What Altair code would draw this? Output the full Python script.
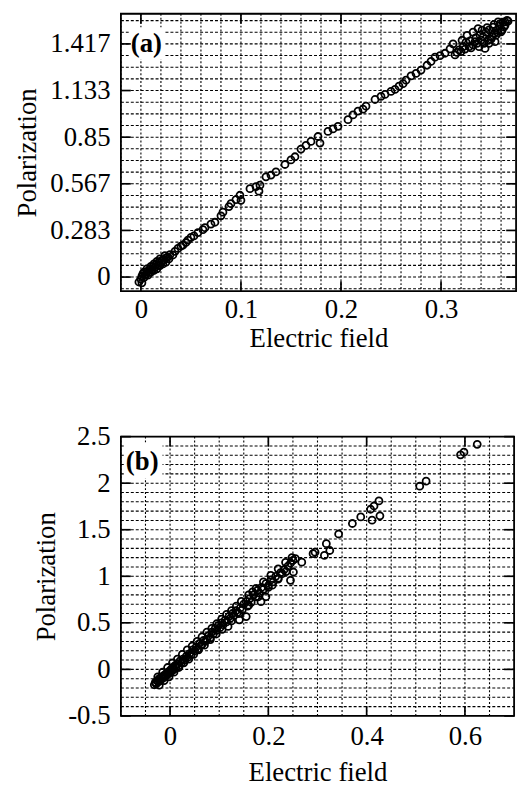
import altair as alt
import pandas as pd

FONT = "Liberation Serif"

# ---------------- panel (a) data ----------------
a_E = [-0.002, 0.000, 0.001, 0.003, 0.002, 0.005, 0.006, 0.008, 0.009, 0.011,
       0.012, 0.014, 0.015, 0.017, 0.018, 0.020, 0.021, 0.023, 0.025, 0.027,
       0.029, 0.032, 0.034, 0.037, 0.040, 0.042, 0.045, 0.047, 0.050, 0.053,
       0.057, 0.062, 0.064, 0.070, 0.074, 0.080, 0.082, 0.088, 0.090, 0.095,
       0.099, 0.100, 0.109, 0.115, 0.119, 0.118, 0.125, 0.130, 0.135, 0.144,
       0.150, 0.154, 0.160, 0.165, 0.170, 0.177, 0.179, 0.187, 0.192, 0.197,
       0.207, 0.212, 0.217, 0.222, 0.225, 0.234, 0.240, 0.244, 0.250, 0.254,
       0.258, 0.262, 0.265, 0.270, 0.275, 0.280, 0.286, 0.290, 0.294, 0.299,
       0.304, 0.309, 0.312, 0.314, 0.318, 0.321, 0.322, 0.325, 0.326, 0.330,
       0.332, 0.334, 0.336, 0.337, 0.340, 0.341, 0.342, 0.344, 0.345, 0.348,
       0.348, 0.350, 0.352, 0.354, 0.355, 0.356, 0.358, 0.359, 0.360, 0.362,
       0.363, 0.364, 0.366,
       0.001, 0.004, 0.007, 0.010, 0.013, 0.016, 0.019, 0.022, 0.025, 0.028,
       0.003, 0.006, 0.010, 0.013, 0.016, 0.019, 0.024,
       0.316, 0.320, 0.324, 0.328, 0.332, 0.338, 0.343, 0.347, 0.351, 0.353,
       0.357, 0.361, 0.364, 0.357, 0.353, 0.346, 0.339, 0.335, 0.329, 0.367]
a_P = [-0.030, -0.012, 0.006, -0.004, 0.020, 0.016, 0.034, 0.028, 0.050, 0.044,
       0.062, 0.058, 0.076, 0.071, 0.090, 0.086, 0.101, 0.104, 0.116, 0.121,
       0.136, 0.134, 0.156, 0.174, 0.188, 0.194, 0.210, 0.225, 0.241, 0.250,
       0.270, 0.288, 0.300, 0.322, 0.333, 0.372, 0.394, 0.428, 0.446, 0.470,
       0.497, 0.466, 0.537, 0.550, 0.558, 0.522, 0.609, 0.620, 0.639, 0.684,
       0.712, 0.731, 0.778, 0.800, 0.824, 0.854, 0.814, 0.885, 0.900, 0.916,
       0.956, 0.985, 1.008, 1.020, 1.038, 1.079, 1.098, 1.110, 1.128, 1.140,
       1.160, 1.175, 1.196, 1.222, 1.237, 1.258, 1.287, 1.310, 1.336, 1.345,
       1.360, 1.386, 1.417, 1.350, 1.380, 1.439, 1.400, 1.427, 1.469, 1.392,
       1.488, 1.430, 1.420, 1.510, 1.440, 1.500, 1.460, 1.389, 1.488, 1.420,
       1.502, 1.445, 1.518, 1.430, 1.470, 1.500, 1.525, 1.539, 1.490, 1.549,
       1.520, 1.551, 1.560,
       -0.035, 0.010, 0.012, 0.030, 0.040, 0.050, 0.070, 0.080, 0.090, 0.110,
       0.030, 0.050, 0.065, 0.080, 0.095, 0.110, 0.130,
       1.365, 1.370, 1.385, 1.400, 1.410, 1.400, 1.420, 1.440, 1.460, 1.480,
       1.485, 1.500, 1.530, 1.550, 1.535, 1.515, 1.470, 1.455, 1.435, 1.555]
a_xticks = [0, 0.1, 0.2, 0.3]
a_yticks = [0, 1.7 / 6, 3.4 / 6, 0.85, 6.8 / 6, 8.5 / 6]
a_xgrid = [round(-0.02 + 0.02 * k, 2) for k in range(20)]
a_ygrid = [1.7 / 24 * k for k in range(-1, 23)]
a_xdom = [-0.02, 0.375]
a_ydom = [-0.085, 1.6]

# ---------------- panel (b) data ----------------
b_E = [-0.032, -0.030, -0.028, -0.026, -0.024, -0.022, -0.020, -0.018, -0.016, -0.014,
       -0.012, -0.010, -0.008, -0.006, -0.004, -0.002, 0.000, 0.002, 0.004, 0.006,
       0.008, 0.010, 0.012, 0.015, 0.018, 0.020, 0.023, 0.026, 0.030, 0.033,
       0.036, 0.040, 0.043, 0.046, 0.050, 0.053, 0.056, 0.060, 0.063, 0.065,
       0.068, 0.072, 0.075, 0.078, 0.082, 0.085, 0.088, 0.092, 0.095, 0.098,
       0.102, 0.105, 0.108, 0.112, 0.115, 0.118, 0.120, 0.123, 0.127, 0.130,
       0.134, 0.137, 0.141, 0.143, 0.147, 0.150, 0.155, 0.155, 0.158, 0.162,
       0.165, 0.168, 0.170, 0.175, 0.178, 0.182, 0.185, 0.186, 0.190, 0.195,
       0.195, 0.200, 0.205, 0.208, 0.210, 0.215, 0.220, 0.225, 0.228, 0.232,
       0.236, 0.240, 0.245, 0.245, 0.251, 0.250, 0.255, 0.268, 0.291, 0.295,
       0.314, 0.318, 0.325, 0.343, 0.371, 0.388, 0.408, 0.415, 0.425, 0.411,
       0.427, 0.508, 0.521, 0.591, 0.598, 0.625,
       -0.025, -0.015, -0.005, 0.005, 0.015, 0.025, 0.035, 0.045, 0.055, 0.065,
       0.075, 0.085, 0.095, 0.105, 0.115, 0.125, 0.135, 0.145, 0.160, 0.175,
       0.190, 0.205, 0.220, 0.235, 0.248,
       -0.022, -0.012, -0.002, 0.008, 0.018, 0.028, 0.038, 0.048, 0.058, 0.070,
       0.082, 0.094, 0.106, 0.125, 0.140, 0.160, 0.180, 0.200, 0.220]
b_P = [-0.165, -0.140, -0.155, -0.120, -0.135, -0.100, -0.120, -0.085, -0.100, -0.070,
       -0.085, -0.055, -0.070, -0.035, -0.050, -0.020, -0.035, 0.000, -0.015, 0.020,
       0.000, 0.040, 0.020, 0.060, 0.040, 0.090, 0.070, 0.110, 0.100, 0.140,
       0.130, 0.170, 0.160, 0.210, 0.200, 0.240, 0.220, 0.280, 0.260, 0.266,
       0.310, 0.300, 0.319, 0.360, 0.340, 0.400, 0.380, 0.440, 0.420, 0.470,
       0.450, 0.500, 0.480, 0.530, 0.510, 0.461, 0.570, 0.550, 0.600, 0.580,
       0.630, 0.610, 0.532, 0.660, 0.640, 0.700, 0.567, 0.730, 0.680, 0.760,
       0.720, 0.833, 0.800, 0.780, 0.850, 0.820, 0.727, 0.880, 0.860, 0.780,
       0.920, 0.900, 0.960, 0.904, 0.940, 1.000, 0.980, 1.040, 1.028, 1.070,
       1.050, 1.110, 0.957, 1.140, 1.046, 1.170, 1.190, 1.152, 1.243, 1.259,
       1.224, 1.350, 1.277, 1.454, 1.567, 1.638, 1.720, 1.755, 1.809, 1.603,
       1.649, 1.968, 2.021, 2.305, 2.333, 2.418,
       -0.080, -0.030, 0.020, 0.070, 0.110, 0.160, 0.210, 0.250, 0.300, 0.350,
       0.400, 0.440, 0.490, 0.540, 0.590, 0.630, 0.680, 0.730, 0.800, 0.870,
       0.940, 1.010, 1.080, 1.150, 1.200,
       -0.170, -0.120, -0.080, -0.030, 0.020, 0.070, 0.110, 0.160, 0.210, 0.260,
       0.320, 0.380, 0.430, 0.520, 0.600, 0.690, 0.780, 0.880, 0.970]
b_xticks = [0, 0.2, 0.4, 0.6]
b_yticks = [-0.5, 0, 0.5, 1, 1.5, 2, 2.5]
b_xgrid = [round(-0.1 + 0.05 * k, 2) for k in range(16)]
b_ygrid = [round(-0.5 + 0.1 * k, 1) for k in range(1, 30)]
b_xdom = [-0.1, 0.7]
b_ydom = [-0.5, 2.5]


def panel(E, P, xdom, ydom, xticks, yticks, xgrid, ygrid, ylabel_expr, tag,
          W, H, x_lp, x_tp, y_lp, y_tp, tag_x, tag_y, box):
    xsc = alt.Scale(domain=xdom, nice=False, zero=False)
    ysc = alt.Scale(domain=ydom, nice=False, zero=False)
    xaxis = alt.Axis(values=xticks, labelExpr="datum.value + ''", domain=False,
                     ticks=False, grid=False, labelPadding=x_lp, titlePadding=x_tp,
                     labelFontSize=27, titleFontSize=27, labelFont=FONT,
                     titleFont=FONT, labelColor="black", titleColor="black",
                     titleFontWeight="normal", labelFlush=False, labelOverlap=False)
    yaxis = alt.Axis(values=yticks, labelExpr=ylabel_expr, domain=False,
                     ticks=False, grid=False, labelPadding=y_lp, titlePadding=y_tp,
                     labelFontSize=27, titleFontSize=27, labelFont=FONT,
                     titleFont=FONT, labelColor="black", titleColor="black",
                     titleFontWeight="normal", labelOverlap=False)
    X = alt.X("E:Q", scale=xsc, axis=xaxis, title="Electric field")
    Y = alt.Y("P:Q", scale=ysc, axis=yaxis, title="Polarization")

    ygrid_l = alt.Chart(pd.DataFrame({"P": ygrid})).mark_rule(
        color="black", strokeWidth=1.1, strokeDash=[3, 2]
    ).encode(y=Y, x=alt.value(0), x2=alt.value(W))
    xgrid_l = alt.Chart(pd.DataFrame({"E": xgrid})).mark_rule(
        color="black", strokeWidth=1.1, strokeDash=[2, 2]
    ).encode(x=X, y=alt.value(0), y2=alt.value(H))

    xt = pd.DataFrame({"E": xticks})
    yt = pd.DataFrame({"P": yticks})
    tk = dict(color="black", strokeWidth=1.7)
    t_bottom = alt.Chart(xt).mark_rule(**tk).encode(x=X, y=alt.value(H), y2=alt.value(H - 10))
    t_top = alt.Chart(xt).mark_rule(**tk).encode(x=X, y=alt.value(0), y2=alt.value(10))
    t_left = alt.Chart(yt).mark_rule(**tk).encode(y=Y, x=alt.value(0), x2=alt.value(10))
    t_right = alt.Chart(yt).mark_rule(**tk).encode(y=Y, x=alt.value(W), x2=alt.value(W - 10))

    pts = alt.Chart(pd.DataFrame({"E": E, "P": P})).mark_point(
        shape="circle", filled=False, color="black", size=50, strokeWidth=1.8, opacity=1
    ).encode(x=X, y=Y)

    tag_df = pd.DataFrame({"tag": [tag]})
    bg = alt.Chart(tag_df).mark_rect(fill="white").encode(
        x=alt.value(box[0]), x2=alt.value(box[1]), y=alt.value(box[2]), y2=alt.value(box[3]))
    frame = alt.Chart(tag_df).mark_rect(filled=False, stroke="black", strokeWidth=1.8).encode(
        x=alt.value(0), x2=alt.value(W), y=alt.value(0), y2=alt.value(H))
    txt = alt.Chart(tag_df).mark_text(
        align="left", baseline="middle", font=FONT, fontSize=27, fontWeight="bold",
        color="black"
    ).encode(text="tag:N", x=alt.value(tag_x), y=alt.value(tag_y))

    return alt.layer(ygrid_l, xgrid_l, bg, t_bottom, t_top, t_left, t_right, pts,
                     frame, txt).properties(width=W, height=H)


top = panel(a_E, a_P, a_xdom, a_ydom, a_xticks, a_yticks, a_xgrid, a_ygrid,
            "format(datum.value, '.3~f')", "(a)",
            399, 280, 6, 3, 11, 8, 10, 31, (8, 44, 14, 46))
bottom = panel(b_E, b_P, b_xdom, b_ydom, b_xticks, b_yticks, b_xgrid, b_ygrid,
               "datum.value + ''", "(b)",
               397, 282, 8, 10, 11, 7, 5, 26, (3, 42, 6, 42))

chart = alt.vconcat(top, bottom, spacing=70).properties(
    padding={"left": 5, "top": 0, "right": 5, "bottom": 0}
).configure_view(stroke="black", strokeWidth=1.6).configure(font=FONT)

chart.save("out.html", embed_options={"renderer": "svg", "actions": False})
